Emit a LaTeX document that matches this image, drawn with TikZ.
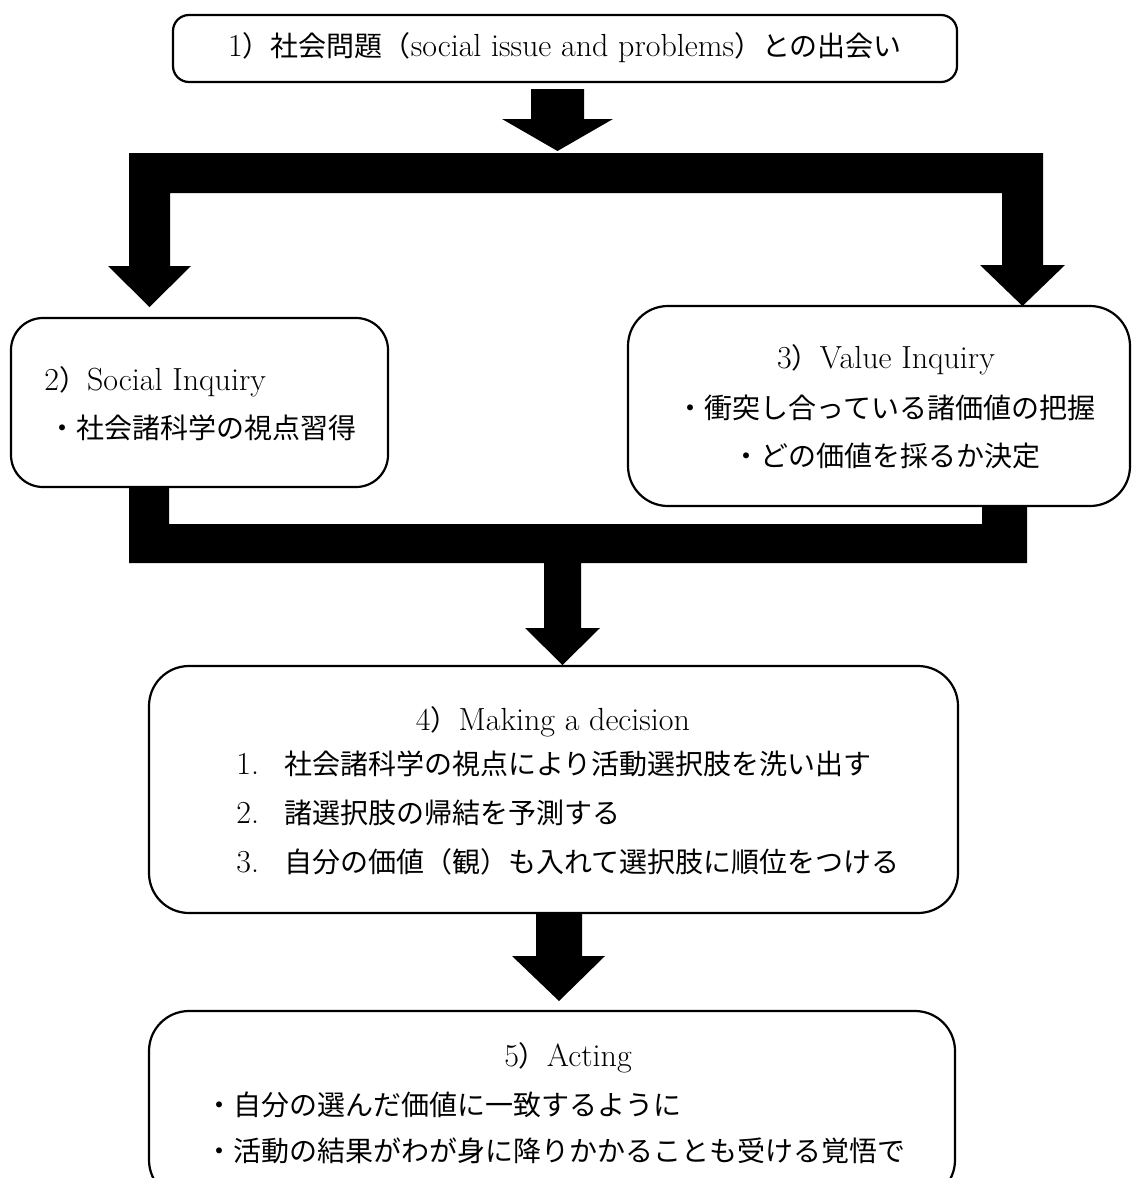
\documentclass[tikz,border=0pt]{standalone}
\usepackage{fontspec}
\newfontfamily\cjk{Noto Sans CJK JP}
\newcommand\lat[1]{{\rmfamily\fontsize{16}{17}\selectfont #1}}
\tikzset{
  box/.style={draw=black, line width=1.1pt, fill=white, rounded corners=#1, inner sep=0pt},
  txt/.style={inner sep=0pt, font=\cjk\fontsize{14}{17}\selectfont},
  blk/.style={fill=black, draw=none}
}
\begin{document}
\begin{tikzpicture}[x=0.5pt,y=-0.5pt]
\useasboundingbox (0,0) rectangle (1132,1178);
% block arrows
\fill[blk] (531,89) -- (584,89) -- (584,119) -- (613,119) -- (557.5,151) -- (502,119) -- (531,119) -- cycle;
\fill[blk] (129,153) -- (1043,153) -- (1043,265) -- (1065,265) -- (1022.5,306) -- (980,265) -- (1002,265) -- (1002,193)
  -- (170,193) -- (170,266) -- (191,266) -- (149.5,307) -- (108,266) -- (129,266) -- cycle;
\fill[blk] (129,480) -- (169,480) -- (169,524) -- (982,524) -- (982,500) -- (1027,500) -- (1027,563) -- (581,563)
  -- (581,628) -- (600,628) -- (562.5,665) -- (525,628) -- (544,628) -- (544,563) -- (129,563) -- cycle;
\fill[blk] (536,913) -- (582,913) -- (582,956) -- (605,956) -- (559,1001) -- (512,956) -- (536,956) -- cycle;
% boxes
\node[box=8pt, minimum width=392pt, minimum height=33.5pt] (b1) at (565,48.5) {};
\node[box=16pt, minimum width=188.5pt, minimum height=84.5pt] (b2) at (199.5,402.5) {};
\node[box=20pt, minimum width=251pt, minimum height=100pt] (b3) at (879,406) {};
\node[box=20pt, minimum width=404.5pt, minimum height=123.5pt] (b4) at (553.5,789.5) {};
\node[box=20pt, minimum width=403pt, minimum height=94.5pt] (b5) at (552,1105.5) {};
% texts
\node[txt] (t1) at (565,48) {\lat{1}）社会問題（\lat{social issue and problems}）との出会い};
\node[txt, anchor=west] (t2a) at (44,382) {\lat{2}）\lat{Social Inquiry}};
\node[txt, anchor=west] (t2b) at (48,428) {・社会諸科学の視点習得};
\node[txt] (t3a) at (886,360) {\lat{3}）\lat{Value Inquiry}};
\node[txt] (t3b) at (886,408) {・衝突し合っている諸価値の把握};
\node[txt] (t3c) at (886,456) {・どの価値を採るか決定};
\node[txt] (t4a) at (553,722) {\lat{4}）\lat{Making a decision}};
\node[txt, anchor=west] (t4b) at (236,764) {\lat{1.}\hspace{0.9em}社会諸科学の視点により活動選択肢を洗い出す};
\node[txt, anchor=west] (t4c) at (236,813) {\lat{2.}\hspace{0.9em}諸選択肢の帰結を予測する};
\node[txt, anchor=west] (t4d) at (236,862) {\lat{3.}\hspace{0.9em}自分の価値（観）も入れて選択肢に順位をつける};
\node[txt] (t5a) at (568,1058) {\lat{5}）\lat{Acting}};
\node[txt, anchor=west] (t5b) at (205,1105) {・自分の選んだ価値に一致するように};
\node[txt, anchor=west] (t5c) at (205,1151) {・活動の結果がわが身に降りかかることも受ける覚悟で};
\end{tikzpicture}
\end{document}
